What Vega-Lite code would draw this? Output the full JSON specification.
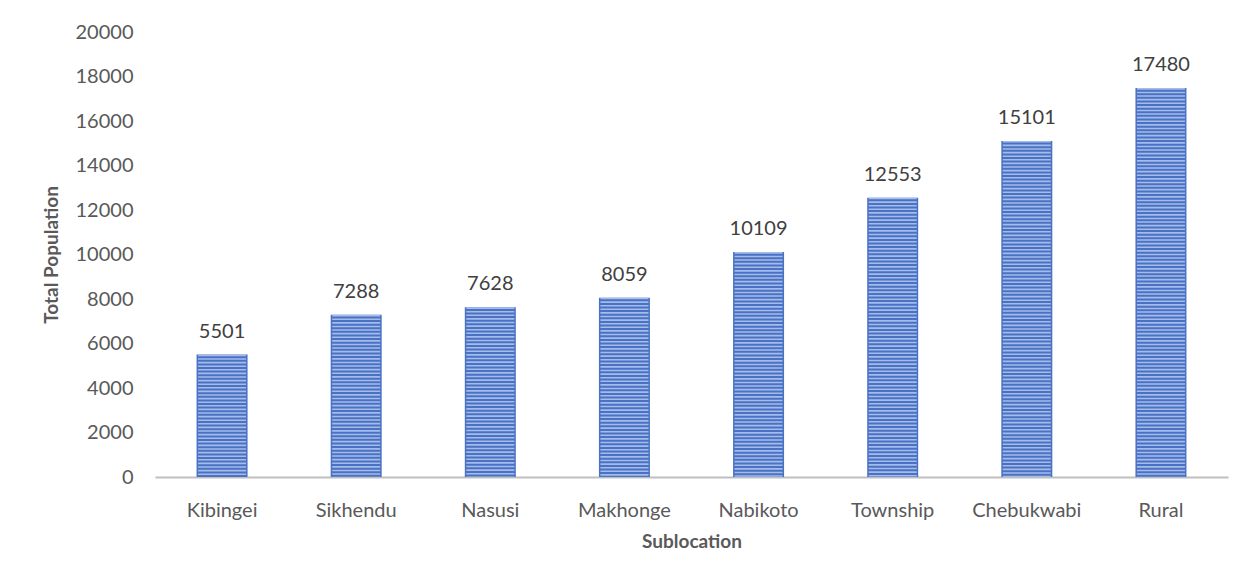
{
  "$schema": "https://vega.github.io/schema/vega-lite/v6.json",
  "width": 1073,
  "height": 445,
  "autosize": "none",
  "padding": {"left": 155, "top": 32, "right": 26, "bottom": 102},
  "background": "white",
  "config": {"view": {"stroke": null}, "font": "Lato"},
  "data": {
    "values": [
      {"Sublocation": "Kibingei", "Population": 5501},
      {"Sublocation": "Sikhendu", "Population": 7288},
      {"Sublocation": "Nasusi", "Population": 7628},
      {"Sublocation": "Makhonge", "Population": 8059},
      {"Sublocation": "Nabikoto", "Population": 10109},
      {"Sublocation": "Township", "Population": 12553},
      {"Sublocation": "Chebukwabi", "Population": 15101},
      {"Sublocation": "Rural", "Population": 17480}
    ]
  },
  "encoding": {
    "x": {
      "field": "Sublocation",
      "type": "nominal",
      "sort": null,
      "scale": {"paddingInner": 0, "paddingOuter": 0},
      "axis": {
        "labelAngle": 0,
        "domainColor": "#bfbfbf",
        "domainWidth": 2,
        "ticks": false,
        "tickSize": 0,
        "labelPadding": 23,
        "labelFontSize": 20,
        "labelColor": "#595959",
        "title": "Sublocation",
        "titleFontSize": 19,
        "titleFontWeight": "bold",
        "titleColor": "#595959",
        "titlePadding": 12
      }
    },
    "y": {
      "field": "Population",
      "type": "quantitative",
      "scale": {"domain": [0, 20000]},
      "axis": {
        "tickCount": 10,
        "format": "d",
        "grid": false,
        "domain": false,
        "ticks": false,
        "tickSize": 0,
        "labelPadding": 22,
        "labelFontSize": 20,
        "labelColor": "#595959",
        "title": "Total Population",
        "titleFontSize": 19,
        "titleFontWeight": "bold",
        "titleColor": "#595959",
        "titlePadding": 14
      }
    }
  },
  "layer": [
    {"mark": {"type": "bar", "width": 51, "color": "#4a72c4"}},
    {
      "mark": {"type": "rule", "strokeWidth": 48, "color": "#a5bbe9", "strokeDash": [1.6, 2]},
      "encoding": {"y2": {"datum": 0}}
    },
    {
      "mark": {"type": "text", "dy": -17, "baseline": "alphabetic", "fontSize": 20, "color": "#404040"},
      "encoding": {"text": {"field": "Population", "type": "quantitative", "format": "d"}}
    }
  ]
}
